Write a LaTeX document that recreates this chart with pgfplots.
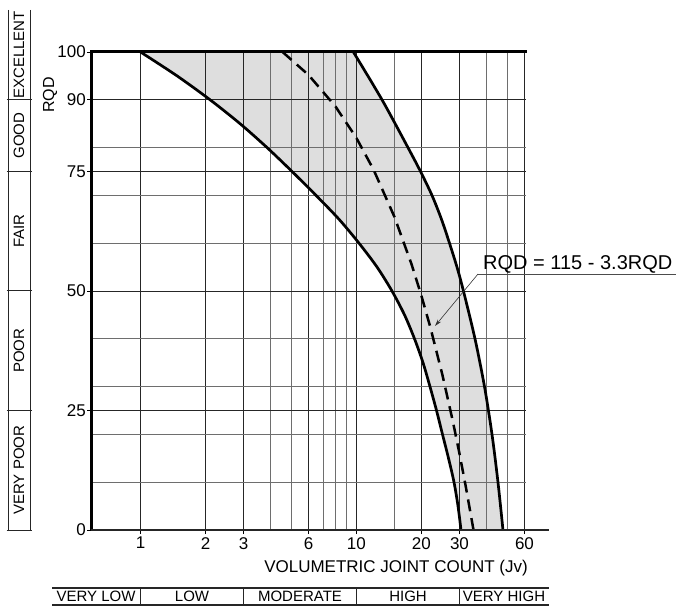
\documentclass[border=0pt]{standalone}
\usepackage{fontspec}
\setmainfont{Liberation Sans}
\usepackage{pgfplots}
\pgfplotsset{compat=1.18}
\usepgfplotslibrary{fillbetween}
\usetikzlibrary{arrows.meta}
\definecolor{bandgray}{HTML}{DEDEDE}
\definecolor{gridmajor}{HTML}{262626}
\definecolor{gridminor}{HTML}{6E6E6E}
\begin{document}
\begin{tikzpicture}[x=1pt,y=1pt,fill between/on layer=axis background]
\begin{axis}[
  at={(91pt,78pt)}, anchor=south west,
  scale only axis, width=435pt, height=478pt,
  xmode=log, xmin=0.59, xmax=61, ymin=0, ymax=100,
  set layers,
  axis line style={draw=none},
  xtick={1,2,3,6,10,20,30,60}, xticklabels={1,2,3,6,10,20,30,60},
  minor xtick={4,5,7,8,9,15,40,50},
  ytick={0,25,50,75,90,100},
  minor ytick={10,20,30,40,60,70,80},
  grid=both,
  major grid style={gridmajor, line width=0.9pt},
  minor grid style={gridminor, line width=0.8pt},
  tick pos=left,
  tick align=outside, major tick length=4pt, minor tick length=0pt,
  tick style={black, line width=0.9pt},
  /pgf/number format/assume math mode=true,
  tick label style={font=\fontsize{17}{19}\selectfont},
  yticklabel style={inner sep=1pt},
  xticklabel style={inner sep=1pt, yshift=-2pt},
  clip=false,
]
\addplot[name path=lower, black, line width=2.7pt, smooth] coordinates {
 (1,100) (1.477,95) (2.100,90) (2.892,85) (3.857,80) (5.033,75) (6.501,70)
 (8.308,65) (10.28,60) (12.46,55) (14.61,50) (16.70,45) (18.58,40)
 (20.34,35) (21.91,30) (23.49,25) (25.04,20) (26.70,15) (28.31,10)
 (29.54,5) (30.50,0)};
\addplot[name path=upper, black, line width=2.7pt, smooth] coordinates {
 (9.68,100) (13.14,90) (17.33,80) (19.81,75) (22.39,70) (24.77,65)
 (26.98,60) (29.22,55) (31.31,50) (35.41,40) (39.19,30) (42.45,20)
 (45.24,10) (47.72,0)};
\addplot[draw=none, fill=bandgray] fill between[of=lower and upper];
\addplot[black, line width=2.5pt, dash pattern=on 12pt off 7pt] coordinates {
 (4.55,100) (6,95.2) (8,88.6) (10,82) (12,75.4) (15,65.5) (18,55.6)
 (20,49) (22,42.4) (25,32.5) (28,22.6) (30,16) (32,9.4) (34.85,0)};
\end{axis}
% frame lines
\draw[black, line width=3pt] (91,78) -- (91,556) -- (527,556);
\draw[black!85, line width=2pt] (91,78) -- (549,78);
% y label
\node[rotate=90, font=\fontsize{16}{18}\selectfont] at (50,513) {RQD};
% left quality table
\draw[black!85, line width=1pt] (8.3,598) -- (8.3,78) (30,598) -- (30,78);
\foreach \yy in {508.2,436.5,317,197.5,78} \draw[black!85, line width=1pt] (6.5,\yy) -- (31.8,\yy);
\begin{scope}[every node/.style={rotate=90, font=\fontsize{15}{17}\selectfont}]
\node at (19,553) {EXCELLENT};
\node at (19,472.4) {GOOD};
\node at (19,376.8) {FAIR};
\node at (19,257.3) {POOR};
\node at (19,137.8) {VERY POOR};
\end{scope}
% x label
\node[font=\fontsize{17}{19}\selectfont] at (396,40) {VOLUMETRIC JOINT COUNT (Jv)};
% bottom table
\draw[black!85, line width=1.2pt] (52,20) -- (549,20) (52,3) -- (549,3);
\foreach \xx in {140.5,243.6,356.5,459.6} \draw[black!85, line width=1.2pt] (\xx,3) -- (\xx,20);
\begin{scope}[every node/.style={font=\fontsize{15}{17}\selectfont}]
\node at (96,11.5) {VERY LOW};
\node at (192,11.5) {LOW};
\node at (300,11.5) {MODERATE};
\node at (408,11.5) {HIGH};
\node at (504,11.5) {VERY HIGH};
\end{scope}
% annotation
\node[anchor=base west, font=\fontsize{20}{22}\selectfont, inner sep=0pt] at (483,338) {RQD = 115 - 3.3RQD};
\draw[black!70, line width=0.8pt] (676,334) -- (478,334);
\draw[black!80, line width=0.6pt, -{Stealth[length=7pt,width=4pt]}] (478,334) -- (435,282);
\pgfresetboundingbox
\path[use as bounding box] (0,0) rectangle (676,608);
\end{tikzpicture}
\end{document}
